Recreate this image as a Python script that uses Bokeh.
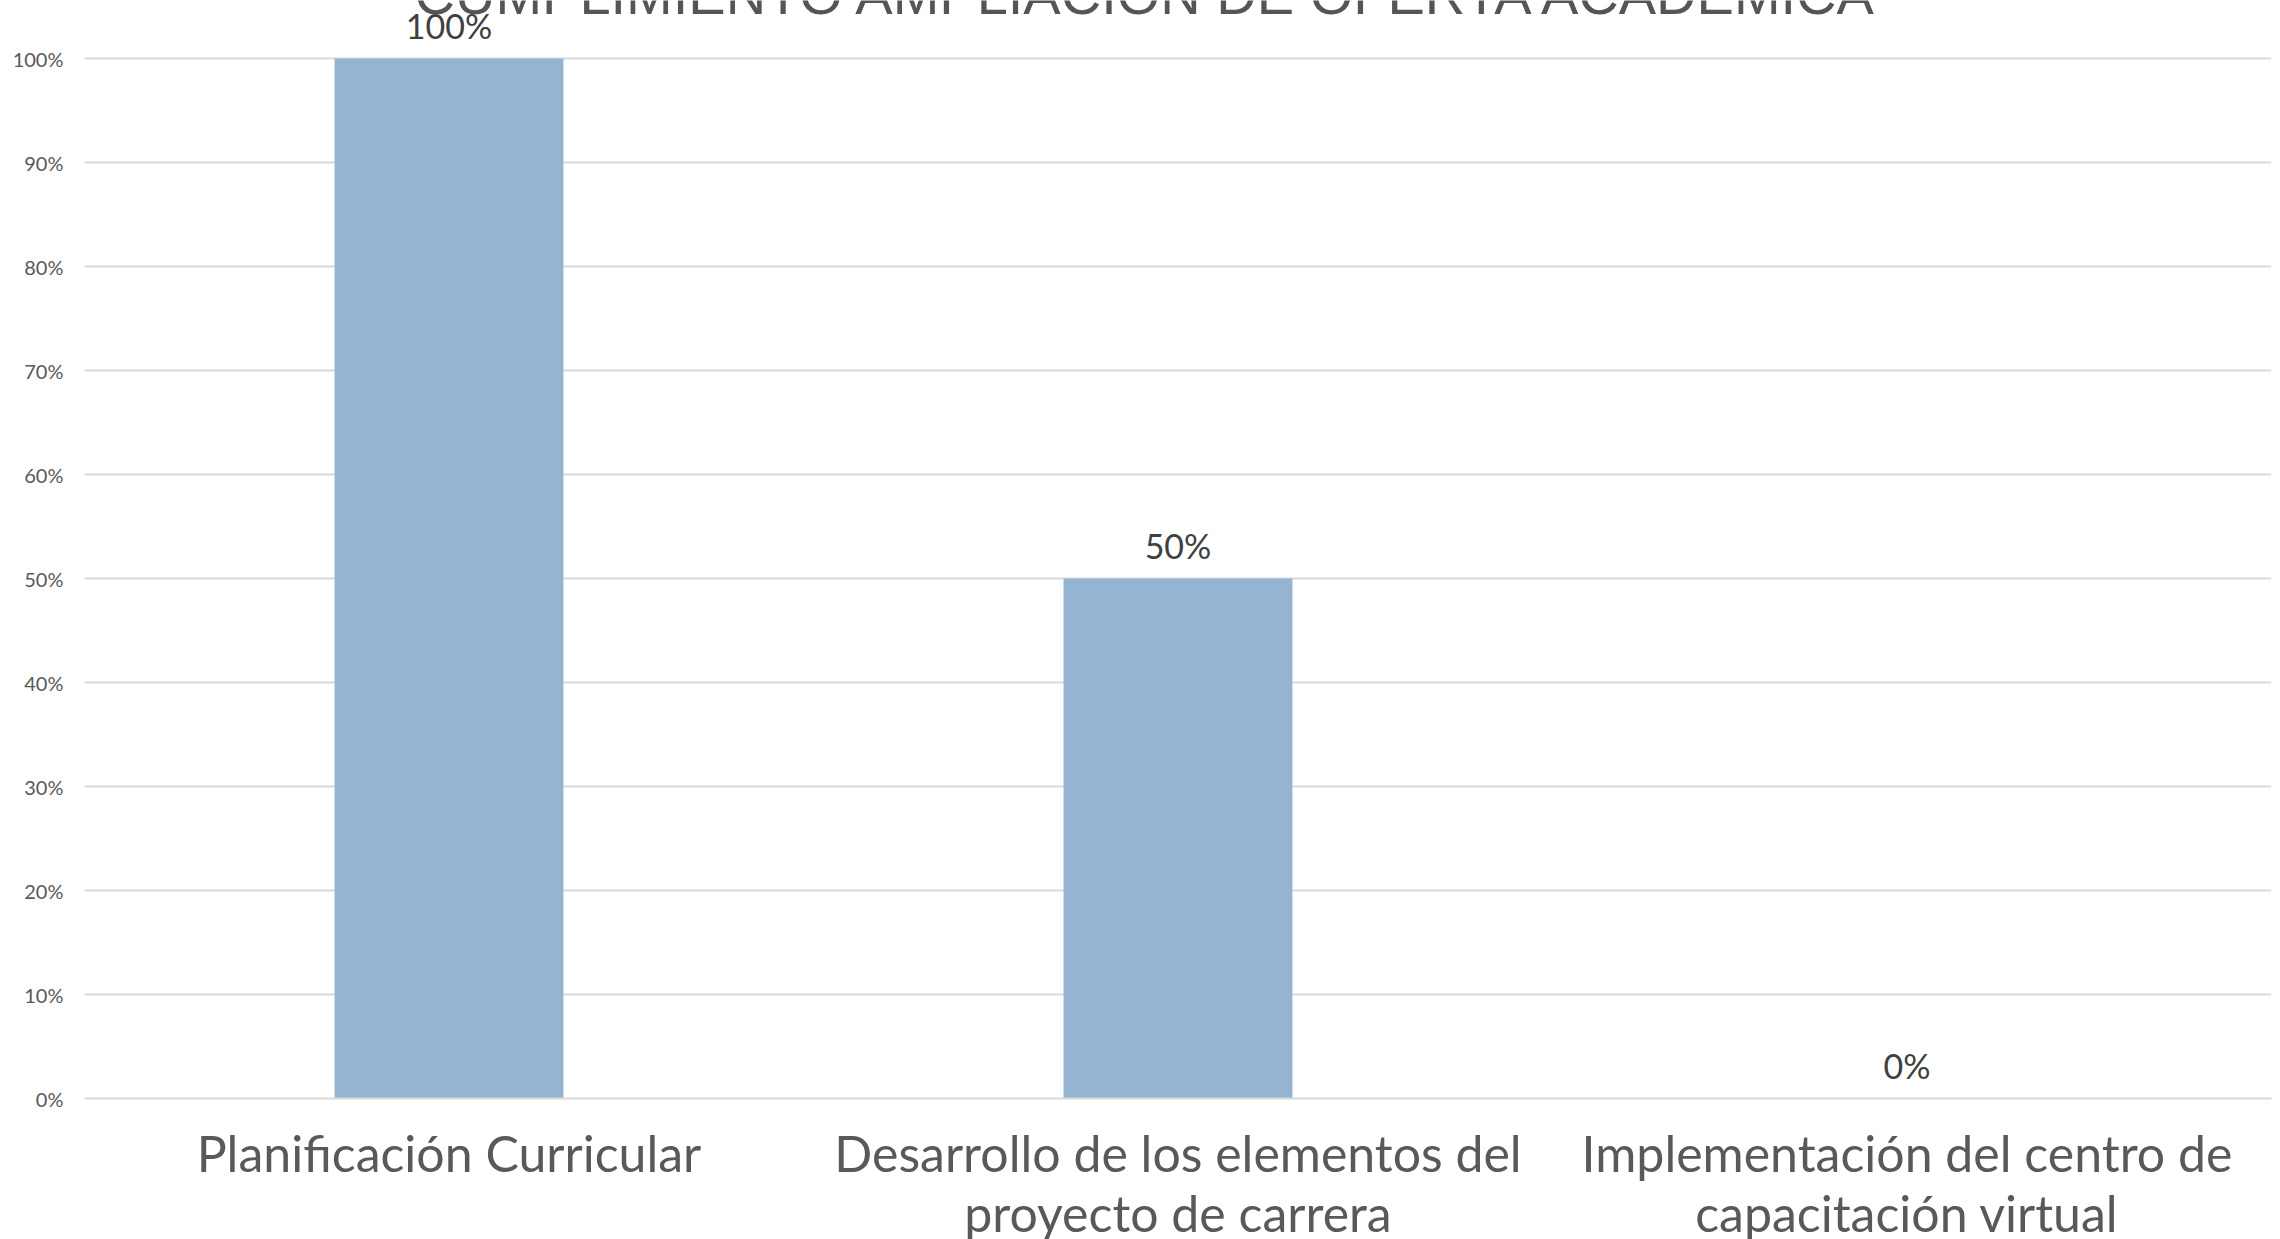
from bokeh.plotting import figure
from bokeh.models import ColumnDataSource, LabelSet, Label, NumeralTickFormatter, FixedTicker, FactorRange, Range1d
from bokeh.core.properties import value
from bokeh.embed import file_html
from bokeh.resources import INLINE

# ---- data ----
categories = [
    "Planificación Curricular",
    "Desarrollo de los elementos del\nproyecto de carrera",
    "Implementación del centro de\ncapacitación virtual",
]
values = [1.0, 0.5, 0.0]
value_labels = ["100%", "50%", "0%"]
y_ticks = [0.0, 0.1, 0.2, 0.3, 0.4, 0.5, 0.6, 0.7, 0.8, 0.9, 1.0]
title_text = "CUMPLIMIENTO AMPLIACIÓN DE OFERTA ACADÉMICA"

FONT = "Lato"
GRAY = "#595959"

source = ColumnDataSource(dict(cat=categories, val=values, lab=value_labels))

p = figure(
    x_range=FactorRange(*categories, range_padding=0.0),
    y_range=Range1d(0, 1.0558),
    frame_width=2187, frame_height=1098,
    min_border_left=84, min_border_right=1, min_border_top=0, min_border_bottom=0,
    output_backend="svg", toolbar_location=None,
    background_fill_color="white", border_fill_color="white",
)
p.outline_line_color = None

p.vbar(x="cat", top="val", width=0.314, source=source,
       fill_color="#95B4D1", line_color=None)

# axes
p.yaxis.ticker = FixedTicker(ticks=y_ticks)
p.yaxis.formatter = NumeralTickFormatter(format="0%")
p.yaxis.axis_line_color = None
p.yaxis.major_tick_line_color = None
p.yaxis.minor_tick_line_color = None
p.yaxis.major_label_text_font = FONT
p.yaxis.major_label_text_font_size = "20px"
p.yaxis.major_label_text_color = GRAY
p.yaxis.major_label_standoff = 15

p.xaxis.axis_line_color = "#d9d9d9"
p.xaxis.axis_line_width = 2
p.xaxis.major_tick_line_color = None
p.xaxis.minor_tick_line_color = None
p.xaxis.major_label_text_font = FONT
p.xaxis.major_label_text_font_size = "50px"
p.xaxis.major_label_text_color = GRAY
p.xaxis.major_label_standoff = 18
p.xaxis.major_label_text_line_height = 1.0

p.xgrid.grid_line_color = None
p.ygrid.grid_line_color = "#d9d9d9"
p.ygrid.grid_line_width = 2

labels = LabelSet(x="cat", y="val", text="lab", source=source,
                  text_align="center", text_baseline="alphabetic",
                  y_offset=20, text_font=value(FONT), text_font_size=value("34px"),
                  text_color=value("#404040"))
p.add_layout(labels)

title = Label(x=1.46, y=1.062, text=title_text, text_align="center",
              text_baseline="alphabetic", text_font="Liberation Sans",
              text_font_size="56px", text_color="#555555")
p.add_layout(title)

open("out.html", "w").write(file_html(p, INLINE))
